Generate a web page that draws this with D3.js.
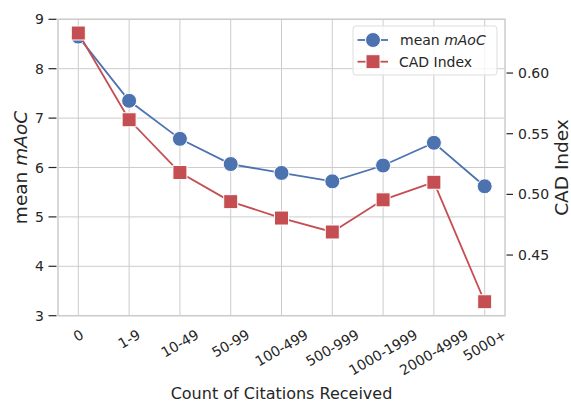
<!DOCTYPE html>
<html>
<head>
<meta charset="utf-8">
<script src="https://cdn.jsdelivr.net/npm/d3@7"></script>
<style>
  body { margin: 0; background: #fff; }
  text { font-family: 'DejaVu Sans', sans-serif; fill: #262626; }
</style>
</head>
<body>
<svg id="chart" width="571" height="401"></svg>
<script>
// 數據
const categories = ['0', '1-9', '10-49', '50-99', '100-499', '500-999', '1000-1999', '2000-4999', '5000+']
const meanMAoC = [8.65, 7.35, 6.58, 6.07, 5.89, 5.72, 6.04, 6.50, 5.62]
const cadIndex = [0.633, 0.5615, 0.518, 0.494, 0.4805, 0.469, 0.4955, 0.510, 0.4115]
const leftTicks = [3, 4, 5, 6, 7, 8, 9]
const rightTicks = [0.45, 0.50, 0.55, 0.60]

const blue = '#4C72B0'
const red = '#C44E52'
const grid = '#cccccc'

const box = { left: 58, right: 505, top: 19.3, bottom: 315.7 }
const svg = d3.select('#chart')

// 比例尺
const x = d3.scaleLinear().domain([-0.4, categories.length - 0.6]).range([box.left, box.right])
const yL = d3.scaleLinear().domain([3, 9]).range([box.bottom, box.top])
const yR = d3.scaleLinear().domain([0.400, 0.6443]).range([box.bottom, box.top])

// 網格
svg.append('g').selectAll('line').data(categories).join('line')
    .attr('x1', (d, i) => x(i)).attr('x2', (d, i) => x(i))
    .attr('y1', box.top).attr('y2', box.bottom)
    .attr('stroke', grid).attr('stroke-width', 1)
svg.append('g').selectAll('line').data(leftTicks).join('line')
    .attr('x1', box.left).attr('x2', box.right)
    .attr('y1', d => yL(d)).attr('y2', d => yL(d))
    .attr('stroke', grid).attr('stroke-width', 1)

// 邊框
svg.append('rect')
    .attr('x', box.left).attr('y', box.top)
    .attr('width', box.right - box.left).attr('height', box.bottom - box.top)
    .attr('fill', 'none').attr('stroke', grid).attr('stroke-width', 1.5)

// 左軸
const gL = svg.append('g').selectAll('g').data(leftTicks).join('g')
    .attr('transform', d => `translate(${box.left}, ${yL(d)})`)
gL.append('line').attr('x1', -9.5).attr('x2', -1.5).attr('stroke', '#262626').attr('stroke-width', 1.2)
gL.append('text').text(d => d)
    .attr('x', -14).attr('dy', '0.36em')
    .attr('text-anchor', 'end').attr('font-size', '14px')

// 右軸
const gR = svg.append('g').selectAll('g').data(rightTicks).join('g')
    .attr('transform', d => `translate(${box.right}, ${yR(d)})`)
gR.append('line').attr('x1', 1.5).attr('x2', 8).attr('stroke', '#262626').attr('stroke-width', 1.2)
gR.append('text').text(d => d.toFixed(2))
    .attr('x', 13).attr('dy', '0.36em')
    .attr('font-size', '14px')

// X 軸標籤 (旋轉 30 度，居中)
const xt = svg.append('g').selectAll('text').data(categories).join('text')
    .text(d => d)
    .attr('font-size', '14px')
    .attr('text-anchor', 'middle')
    .attr('dominant-baseline', 'central')
xt.each(function (d, i) {
    const w = this.getComputedTextLength()
    const h = 12
    const cy = 328 + (w * 0.5 + h * 0.866) / 2
    d3.select(this).attr('transform', `translate(${x(i)}, ${cy}) rotate(-30)`)
})

// 軸標題
svg.append('text')
    .attr('x', (box.left + box.right) / 2).attr('y', 398.5)
    .attr('text-anchor', 'middle').attr('font-size', '16px')
    .text('Count of Citations Received')

const lt = svg.append('text')
    .attr('transform', `translate(27, ${(box.top + box.bottom) / 2}) rotate(-90)`)
    .attr('text-anchor', 'middle').attr('font-size', '18.5px')
lt.append('tspan').text('mean ')
lt.append('tspan').attr('font-style', 'italic').text('mAoC')

svg.append('text')
    .attr('transform', `translate(568, ${(box.top + box.bottom) / 2}) rotate(-90)`)
    .attr('text-anchor', 'middle').attr('font-size', '18.5px')
    .text('CAD Index')

// 曲線
const lineL = d3.line().x((d, i) => x(i)).y(d => yL(d))
const lineR = d3.line().x((d, i) => x(i)).y(d => yR(d))

svg.append('path').datum(meanMAoC).attr('d', lineL)
    .attr('fill', 'none').attr('stroke', blue).attr('stroke-width', 1.8)
svg.append('g').selectAll('circle').data(meanMAoC).join('circle')
    .attr('cx', (d, i) => x(i)).attr('cy', d => yL(d)).attr('r', 7.5)
    .attr('fill', blue).attr('stroke', '#fff').attr('stroke-width', 1)

svg.append('path').datum(cadIndex).attr('d', lineR)
    .attr('fill', 'none').attr('stroke', red).attr('stroke-width', 1.8)
const sq = 14
svg.append('g').selectAll('rect').data(cadIndex).join('rect')
    .attr('x', (d, i) => x(i) - sq / 2).attr('y', d => yR(d) - sq / 2)
    .attr('width', sq).attr('height', sq)
    .attr('fill', red).attr('stroke', '#fff').attr('stroke-width', 1)

// 圖例
const lg = svg.append('g').attr('transform', 'translate(353, 26)')
lg.append('rect')
    .attr('width', 144).attr('height', 49).attr('rx', 3)
    .attr('fill', 'rgba(255,255,255,0.8)').attr('stroke', '#dddddd').attr('stroke-width', 1)

const e1 = lg.append('g').attr('transform', 'translate(0, 14)')
e1.append('line').attr('x1', 4.5).attr('x2', 35).attr('stroke', blue).attr('stroke-width', 1.8)
e1.append('circle').attr('cx', 20).attr('r', 7.5).attr('fill', blue).attr('stroke', '#fff').attr('stroke-width', 1)
const t1 = e1.append('text').attr('x', 47).attr('dy', '0.36em').attr('font-size', '14px')
t1.append('tspan').text('mean ')
t1.append('tspan').attr('font-style', 'italic').text('mAoC')

const e2 = lg.append('g').attr('transform', 'translate(0, 35.7)')
e2.append('line').attr('x1', 4.5).attr('x2', 35).attr('stroke', red).attr('stroke-width', 1.8)
e2.append('rect').attr('x', 20 - sq / 2).attr('y', -sq / 2).attr('width', sq).attr('height', sq)
    .attr('fill', red).attr('stroke', '#fff').attr('stroke-width', 1)
e2.append('text').attr('x', 46).attr('dy', '0.36em').attr('font-size', '14px').text('CAD Index')
</script>
</body>
</html>
